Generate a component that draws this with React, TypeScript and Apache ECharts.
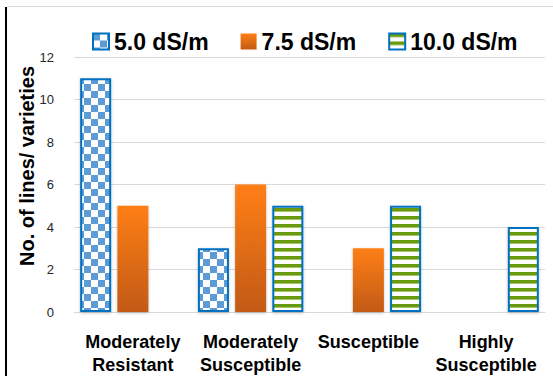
import React, { useEffect, useRef } from "react";
import * as echarts from "echarts";

const categories = [
  "Moderately\nResistant",
  "Moderately\nSusceptible",
  "Susceptible",
  "Highly\nSusceptible",
];
const seriesNames = ["5.0 dS/m", "7.5 dS/m", "10.0 dS/m"];
const values5 = [11, 3, null, null];
const values75 = [5, 6, 3, null];
const values10 = [null, 5, 5, 4];
const yTicks = { min: 0, max: 12, interval: 2 };

const FONT = "Liberation Sans";

// Blue/white checkerboard fill for the 5.0 dS/m bars
function checkerTile(): HTMLCanvasElement {
  const s = 7;
  const c = document.createElement("canvas");
  c.width = s * 2;
  c.height = s * 2;
  const ctx = c.getContext("2d")!;
  ctx.fillStyle = "#ffffff";
  ctx.fillRect(0, 0, s * 2, s * 2);
  ctx.fillStyle = "#5B9BD5";
  ctx.fillRect(0, 0, s, s);
  ctx.fillRect(s, s, s, s);
  return c;
}

// Green horizontal stripes for the 10.0 dS/m bars
function stripeTile(): HTMLCanvasElement {
  const c = document.createElement("canvas");
  c.width = 8;
  c.height = 8;
  const ctx = c.getContext("2d")!;
  ctx.fillStyle = "#ffffff";
  ctx.fillRect(0, 0, 8, 8);
  ctx.fillStyle = "#689A0A";
  ctx.fillRect(0, 0, 8, 3);
  ctx.fillStyle = "#A9C76A";
  ctx.fillRect(0, 3, 8, 1);
  return c;
}

export default function App() {
  const ref = useRef<HTMLDivElement>(null);

  useEffect(() => {
    if (!ref.current) return;
    const chart = echarts.init(ref.current, null, { renderer: "svg" });

    const checker = { image: checkerTile(), repeat: "repeat" } as any;
    const stripes = { image: stripeTile(), repeat: "repeat" } as any;
    const orange = new echarts.graphic.LinearGradient(0, 0, 0, 1, [
      { offset: 0, color: "#FF7F14" },
      { offset: 1, color: "#C25A12" },
    ]);

    const shadow = {
      shadowBlur: 3,
      shadowColor: "rgba(0,0,0,0.25)",
      shadowOffsetY: 1,
    };

    chart.setOption({
      animation: false,
      backgroundColor: "#ffffff",
      textStyle: { fontFamily: FONT },
      grid: { left: 74, right: 8, top: 57, bottom: 63 },
      legend: {
        left: 87,
        top: 25,
        itemWidth: 16,
        itemHeight: 16,
        itemGap: 32,
        icon: "rect",
        textStyle: {
          fontFamily: FONT,
          fontSize: 23,
          fontWeight: "bold",
          color: "#000000",
        },
        data: seriesNames,
      },
      xAxis: {
        type: "category",
        data: categories,
        axisLine: { show: true, lineStyle: { color: "#D9D9D9", width: 1 } },
        axisTick: { show: false },
        axisLabel: {
          interval: 0,
          margin: 18,
          fontFamily: FONT,
          fontSize: 18,
          fontWeight: "bold",
          lineHeight: 23,
          color: "#000000",
        },
      },
      yAxis: {
        type: "value",
        min: yTicks.min,
        max: yTicks.max,
        interval: yTicks.interval,
        axisLine: { show: false },
        axisTick: { show: false },
        axisLabel: {
          margin: 20,
          fontFamily: FONT,
          fontSize: 13,
          color: "#262626",
        },
        splitLine: { lineStyle: { color: "#D9D9D9", width: 1 } },
      },
      graphic: [
        {
          type: "line",
          shape: { x1: 6, y1: 7, x2: 6, y2: 376 },
          style: { stroke: "#000000", lineWidth: 2 },
        },
        {
          type: "line",
          shape: { x1: 7, y1: 6.5, x2: 553, y2: 6.5 },
          style: { stroke: "#D9D9D9", lineWidth: 1 },
        },
        {
          type: "text",
          x: 27,
          y: 166,
          rotation: Math.PI / 2,
          style: {
            text: "No. of lines/ varieties",
            fontFamily: FONT,
            fontSize: 20,
            fontWeight: "bold",
            fill: "#000000",
            align: "center",
            verticalAlign: "middle",
          },
        },
      ],
      series: [
        {
          name: seriesNames[0],
          type: "bar",
          data: values5,
          barWidth: 31,
          barGap: "20%",
          itemStyle: {
            color: checker,
            borderColor: "#0070C0",
            borderWidth: 2,
            ...shadow,
          },
        },
        {
          name: seriesNames[1],
          type: "bar",
          data: values75,
          barWidth: 31,
          barGap: "20%",
          itemStyle: { color: orange, ...shadow },
        },
        {
          name: seriesNames[2],
          type: "bar",
          data: values10,
          barWidth: 31,
          barGap: "20%",
          itemStyle: {
            color: stripes,
            borderColor: "#0070C0",
            borderWidth: 2,
            ...shadow,
          },
        },
      ],
    });

    return () => chart.dispose();
  }, []);

  return <div ref={ref} style={{ width: 553, height: 376, position: "absolute", left: 0, top: 0 }} />;
}
